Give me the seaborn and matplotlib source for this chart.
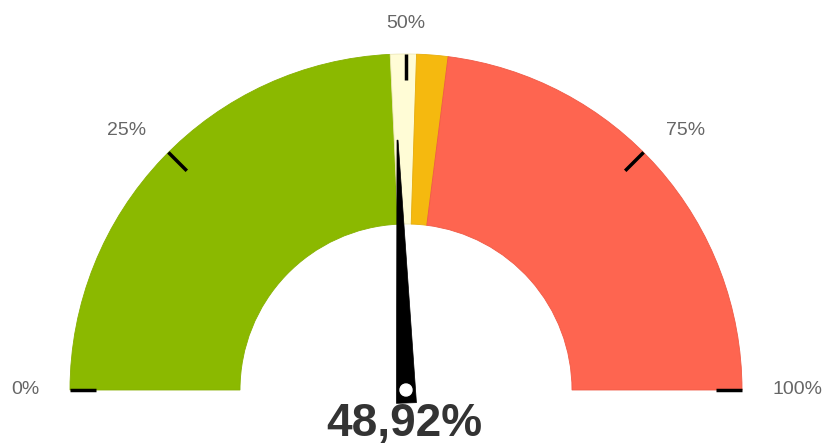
import numpy as np
import matplotlib
matplotlib.use("Agg")
import matplotlib.pyplot as plt
from matplotlib.patches import Wedge, Polygon, Circle
import seaborn as sns

# ---- data ----
band_starts = [0.0, 48.5, 51.0, 54.0]
band_ends = [48.5, 51.0, 54.0, 100.0]
band_colors = ["#8bb900", "#fffcd6", "#f5b90f", "#fe6550"]
tick_values = [0, 25, 50, 75, 100]
tick_labels = ["0%", "25%", "50%", "75%", "100%"]
value = 48.92
value_label = "48,92%"

sns.set_theme(style="white")
plt.rcParams['font.family'] = ['Liberation Sans', 'DejaVu Sans']

fig = plt.figure(figsize=(8.24, 4.46), dpi=100)
ax = fig.add_axes([0, 0, 1, 1])
ax.set_xlim(-406, 418)
ax.set_ylim(-56, 390)
ax.set_aspect('equal')
ax.axis('off')

R_OUT = 336
R_IN = 166

def ang(v):
    return np.deg2rad(180 - v * 1.8)

edge_colors = ["#86b000", "#ede8b8", "#e8ae0c", "#f05a46"]
for s, e, c, ec in zip(band_starts, band_ends, band_colors, edge_colors):
    w = Wedge((0, 0), R_OUT, 180 - e * 1.8, 180 - s * 1.8, width=R_OUT - R_IN,
              facecolor=c, edgecolor=ec, lw=0.6)
    ax.add_patch(w)

# ticks and labels
for v, lab in zip(tick_values, tick_labels):
    a = ang(v)
    ax.plot([310 * np.cos(a), R_OUT * np.cos(a)], [310 * np.sin(a), R_OUT * np.sin(a)],
            color="black", lw=2.5, solid_capstyle='butt', zorder=3)
    lx, ly = 367 * np.cos(a), 367 * np.sin(a)
    ha = 'center' if abs(lx) < 1 else ('right' if lx < 0 else 'left')
    ax.text(lx, ly, lab, ha=ha, va='center', fontsize=14, color="#666666")

# needle
a = ang(value)
d = np.array([np.cos(a), np.sin(a)])
p = np.array([-np.sin(a), np.cos(a)])
pts = [(-13) * d + 10 * p, 250 * d + 0.5 * p, 250 * d - 0.5 * p, (-13) * d - 10 * p]
ax.add_patch(Polygon(pts, closed=True, facecolor="black", edgecolor="black", lw=0.5, zorder=4))
ax.add_patch(Circle((0, 0), 6, facecolor="white", edgecolor="white", zorder=5))

ax.text(-1.5, -34, value_label, ha='center', va='center', fontsize=33,
        fontweight='bold', color="#333333", zorder=6)

fig.savefig("out.png", dpi=100)
